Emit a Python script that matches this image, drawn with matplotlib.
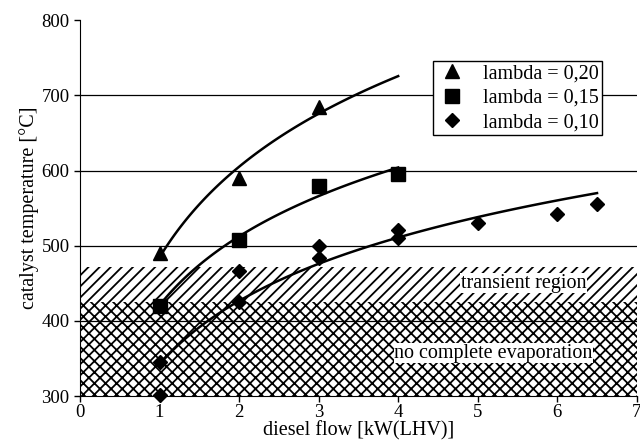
import matplotlib
matplotlib.use('Agg')
import matplotlib.pyplot as plt
import numpy as np

plt.rcParams['font.family'] = ['Liberation Serif', 'DejaVu Serif']
plt.rcParams['hatch.linewidth'] = 1.3

# measured catalyst temperatures
x_020 = [1, 2, 3]
y_020 = [490, 590, 685]
x_015 = [1, 2, 3, 4]
y_015 = [420, 508, 580, 595]
x_010 = [1, 1, 2, 2, 3, 3, 4, 4, 5, 6, 6.5]
y_010 = [345, 302, 425, 466, 483, 500, 510, 521, 530, 542, 555]

# end of each trendline (lambda 0,20 is extended to 4)
trend_end = [4, 4, 6.5]

# operating regions
evap_limit = 425
transient_limit = 472


def log_trend(x, y, x_end):
    # logarithmic trendline y = a + b ln(x)
    b, a = np.polyfit(np.log(x), y, 1)
    xs = np.linspace(min(x), x_end, 100)
    return xs, a + b * np.log(xs)


fig, ax = plt.subplots(figsize=(6.4, 4.48), dpi=100)
fig.subplots_adjust(left=0.125, right=0.995, bottom=0.116, top=0.955)

ax.fill_between([0, 7], 300, evap_limit, facecolor='white', edgecolor='black',
                hatch='xxx', linewidth=0, zorder=1)
ax.fill_between([0, 7], evap_limit, transient_limit, facecolor='white',
                edgecolor='black', hatch='///', linewidth=0, zorder=1)

for yv in [400, 500, 600, 700]:
    ax.axhline(yv, color='black', lw=0.9, zorder=2)

series = [(x_020, y_020), (x_015, y_015), (x_010, y_010)]
for (xs, ys), x_end in zip(series, trend_end):
    tx, ty = log_trend(xs, ys, x_end)
    ax.plot(tx, ty, color='black', lw=1.8, zorder=3)

ax.plot(x_020, y_020, '^', color='black', ms=10, ls='none',
        label='lambda = 0,20', zorder=4)
ax.plot(x_015, y_015, 's', color='black', ms=9.5, ls='none',
        label='lambda = 0,15', zorder=4)
ax.plot(x_010, y_010, 'D', color='black', ms=7.5, ls='none',
        label='lambda = 0,10', zorder=4, clip_on=False)

ax.text(5.58, 450, 'transient region', ha='center', va='center',
        fontsize=14.5, bbox=dict(facecolor='white', edgecolor='none', pad=0.5),
        zorder=3)
ax.text(5.2, 357, 'no complete evaporation', ha='center', va='center',
        fontsize=14.5, bbox=dict(facecolor='white', edgecolor='none', pad=0.5),
        zorder=3)

ax.set_xlim(0, 7)
ax.set_ylim(300, 800)
ax.set_xticks(range(0, 8))
ax.set_yticks(range(300, 801, 100))
ax.spines['top'].set_visible(False)
ax.spines['right'].set_visible(False)
ax.tick_params(axis='both', labelsize=13.5, length=4, width=1, colors='black')
ax.tick_params(axis='x', direction='out', pad=2)
ax.set_xlabel('diesel flow [kW(LHV)]', fontsize=14.5, labelpad=0)
ax.set_ylabel('catalyst temperature [°C]', fontsize=14.5, labelpad=2)

leg = ax.legend(loc='upper right', bbox_to_anchor=(0.937, 0.891),
                borderaxespad=0, fontsize=14.5, frameon=True, fancybox=False,
                edgecolor='black', framealpha=1, handletextpad=0.75,
                borderpad=0.15, labelspacing=0.27, handlelength=1.6)
leg.get_frame().set_linewidth(1.0)
leg.set_zorder(5)

fig.savefig('out.png', dpi=100)
